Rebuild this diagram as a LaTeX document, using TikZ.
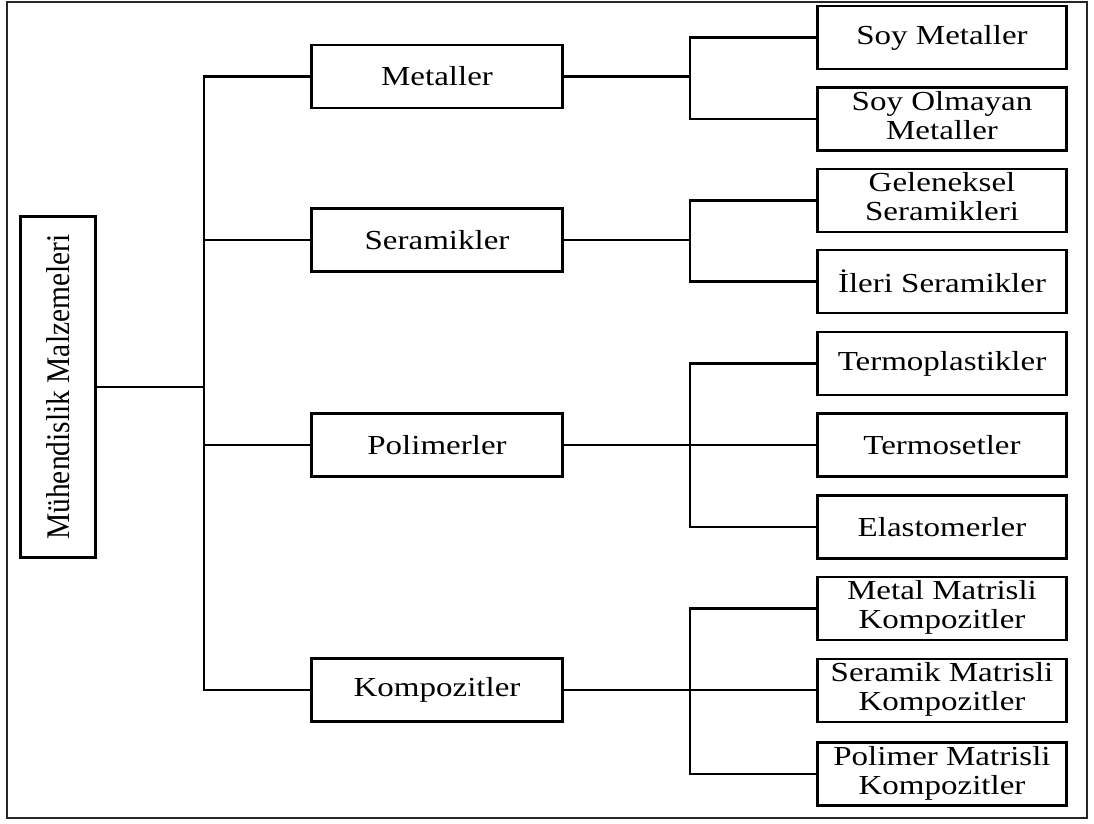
\documentclass[tikz,border=0pt]{standalone}
\usepackage{fontspec}
\setmainfont{Liberation Serif}[FakeStretch=1.2]
\newfontfamily\rootfont{Liberation Serif}
\newcommand{\two}[2]{\begin{tabular}{@{}c@{}}#1\\#2\end{tabular}}
\begin{document}
\begin{tikzpicture}[x=1pt,y=-1pt,
  lw/.style={line width=2.7pt},
  box/.style={draw, lw, inner sep=0pt, align=center, font=\fontsize{27.5}{29}\selectfont},
  lone/.style={box, minimum width=251pt, minimum height=63pt},
  ltwo/.style={box, minimum width=249pt, minimum height=63pt},
  conn/.style={lw, line join=miter}]
\useasboundingbox (0,0) rectangle (1094,823);
\draw[line width=2pt, black!85] (7,2) rectangle (1087,818);

% root
\node[box, minimum width=75pt, minimum height=341pt] (root) at (58,387)
  {\rotatebox{90}{\rootfont\fontsize{29.5}{31}\selectfont\scalebox{1}[1.12]{Mühendislik Malzemeleri}}};

% level 1
\node[lone] (met) at (437,76.5) {Metaller};
\node[lone] (ser) at (437,240) {Seramikler};
\node[lone] (pol) at (437,445) {Polimerler};
\node[lone] (kom) at (437,690) {Kompozitler};

% level 2
\node[ltwo] (sm)  at (942,37.5) {Soy Metaller};
\node[ltwo] (som) at (942,119) {\two{Soy Olmayan}{Metaller}};
\node[ltwo] (gs)  at (942,200.5) {\two{Geleneksel}{Seramikleri}};
\node[ltwo] (is)  at (942,281.5) {İleri Seramikler};
\node[ltwo] (tp)  at (942,363.5) {Termoplastikler};
\node[ltwo] (ts)  at (942,445) {Termosetler};
\node[ltwo] (el)  at (942,527) {Elastomerler};
\node[ltwo] (mm)  at (942,608.5) {\two{Metal Matrisli}{Kompozitler}};
\node[ltwo] (sk)  at (942,690.5) {\two{Seramik Matrisli}{Kompozitler}};
\node[ltwo] (pm)  at (942,774) {\two{Polimer Matrisli}{Kompozitler}};

\coordinate (trunk) at (204,0);
\coordinate (br) at (690,0);

% trunk
\draw[conn] (met.west) -| (trunk |- kom.west) -- (kom.west);
\draw[conn] (ser.west) -- (ser.west -| trunk);
\draw[conn] (pol.west) -- (pol.west -| trunk);
\draw[conn] (root.east) -- (root.east -| trunk);

% branches
\draw[conn] (met.east) -- (met.east -| br);
\draw[conn] (sm.west) -| (br |- som.west) -- (som.west);
\draw[conn] (ser.east) -- (ser.east -| br);
\draw[conn] (gs.west) -| (br |- is.west) -- (is.west);
\draw[conn] (pol.east) -- (ts.west);
\draw[conn] (tp.west) -| (br |- el.west) -- (el.west);
\draw[conn] (kom.east) -- (kom.east -| sk.west);
\draw[conn] (mm.west) -| (br |- pm.west) -- (pm.west);
\end{tikzpicture}
\end{document}
